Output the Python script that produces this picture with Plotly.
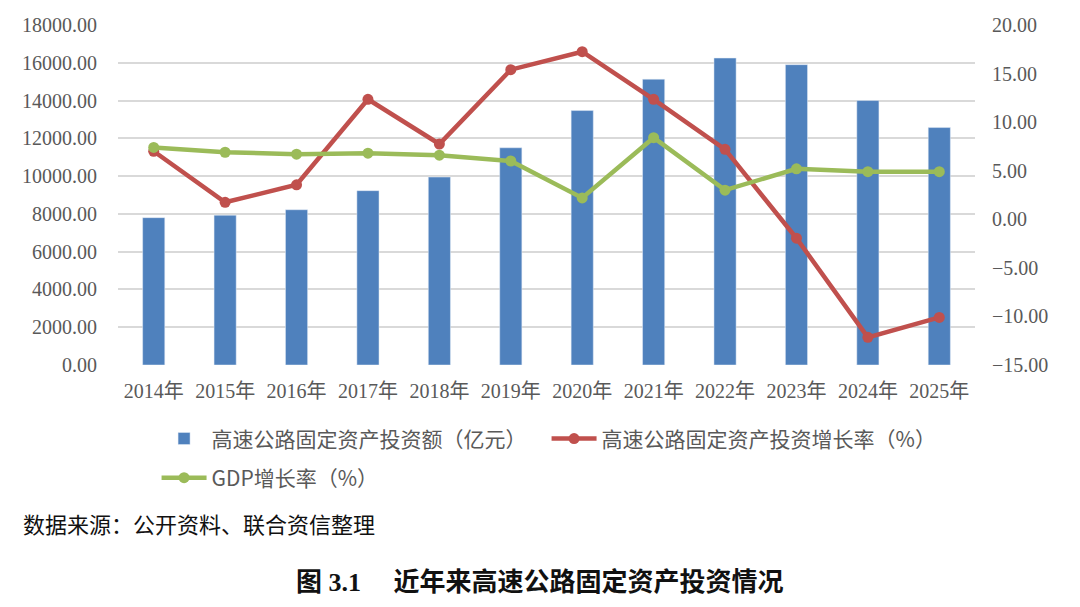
import plotly.graph_objects as go

years = ["2014年", "2015年", "2016年", "2017年", "2018年", "2019年",
         "2020年", "2021年", "2022年", "2023年", "2024年", "2025年"]
invest = [7800, 7930, 8220, 9230, 9950, 11500, 13470, 15130, 16250, 15900, 14000, 12570]
invest_growth = [7.0, 1.75, 3.55, 12.35, 7.75, 15.4, 17.25, 12.35, 7.2, -1.95, -12.15, -10.1]
gdp_growth = [7.4, 6.9, 6.7, 6.8, 6.6, 6.0, 2.2, 8.4, 3.0, 5.2, 4.9, 4.9]

names = ["高速公路固定资产投资额（亿元）", "高速公路固定资产投资增长率（%）", "GDP增长率（%）"]
source_text = "数据来源：公开资料、联合资信整理"
title_text = "图 3.1&nbsp;&nbsp;&nbsp;&nbsp;&nbsp;近年来高速公路固定资产投资情况"

BLUE = "#4F81BD"
RED = "#C0504D"
GREEN = "#9BBB59"
GRID = "#D9D9D9"
TICK = "#595959"
SERIF = "'Liberation Serif', 'Times New Roman', 'Noto Sans CJK SC', serif"
CJK = "'Noto Sans CJK SC', sans-serif"

fig = go.Figure()
fig.add_trace(go.Bar(x=years, y=invest, name=names[0], marker_color=BLUE,
                     width=0.31, yaxis="y", legend="legend"))
fig.add_trace(go.Scatter(x=years, y=invest_growth, name=names[1], mode="lines+markers",
                         line=dict(color=RED, width=4.5), marker=dict(size=11, color=RED),
                         yaxis="y2", legend="legend"))
fig.add_trace(go.Scatter(x=years, y=gdp_growth, name=names[2], mode="lines+markers",
                         line=dict(color=GREEN, width=4.5), marker=dict(size=11, color=GREEN),
                         yaxis="y2", legend="legend2"))

legend_font = dict(family=CJK, size=21, color=TICK)

fig.update_layout(
    width=1080, height=607,
    margin=dict(l=118, r=105, t=25, b=242),
    paper_bgcolor="white", plot_bgcolor="white",
    showlegend=True,
    xaxis=dict(type="category", range=[-0.5, len(years) - 0.5], autorange=False,
               showgrid=False, zeroline=False, showline=False,
               automargin=False,
               ticks="", tickfont=dict(family=SERIF, size=20, color=TICK),
               ticklabelstandoff=12),
    yaxis=dict(range=[0, 18000], dtick=2000, tickformat=".2f", showgrid=True,
               automargin=False,
               gridcolor=GRID, gridwidth=1.5, zeroline=False, showline=False,
               tickfont=dict(family=SERIF, size=20, color=TICK), ticklabelstandoff=20),
    yaxis2=dict(range=[-15, 20], dtick=5, tickformat=".2f", overlaying="y", side="right",
                automargin=False,
                showgrid=False, zeroline=False, showline=False,
                tickfont=dict(family=SERIF, size=20, color=TICK), ticklabelstandoff=16),
    legend=dict(orientation="h", x=0.045, xanchor="left", y=-0.157, yanchor="top",
                entrywidth=330, entrywidthmode="pixels",
                font=legend_font, itemwidth=45),
    legend2=dict(orientation="h", x=0.045, xanchor="left", y=-0.272, yanchor="top",
                 font=legend_font, itemwidth=45),
    annotations=[
        dict(text=source_text, xref="paper", yref="paper", x=-0.113, y=-0.465,
             xanchor="left", yanchor="middle", showarrow=False,
             font=dict(family=CJK, size=22, color="#111111")),
        dict(text="<b>" + title_text + "</b>", xref="paper", yref="paper", x=0.4924, y=-0.641,
             xanchor="center", yanchor="middle", showarrow=False,
             font=dict(family=SERIF, size=26, color="#111111")),
    ],
)

fig.write_html("out.html", config={"displayModeBar": False},
               post_script="document.body.style.margin='0';")
